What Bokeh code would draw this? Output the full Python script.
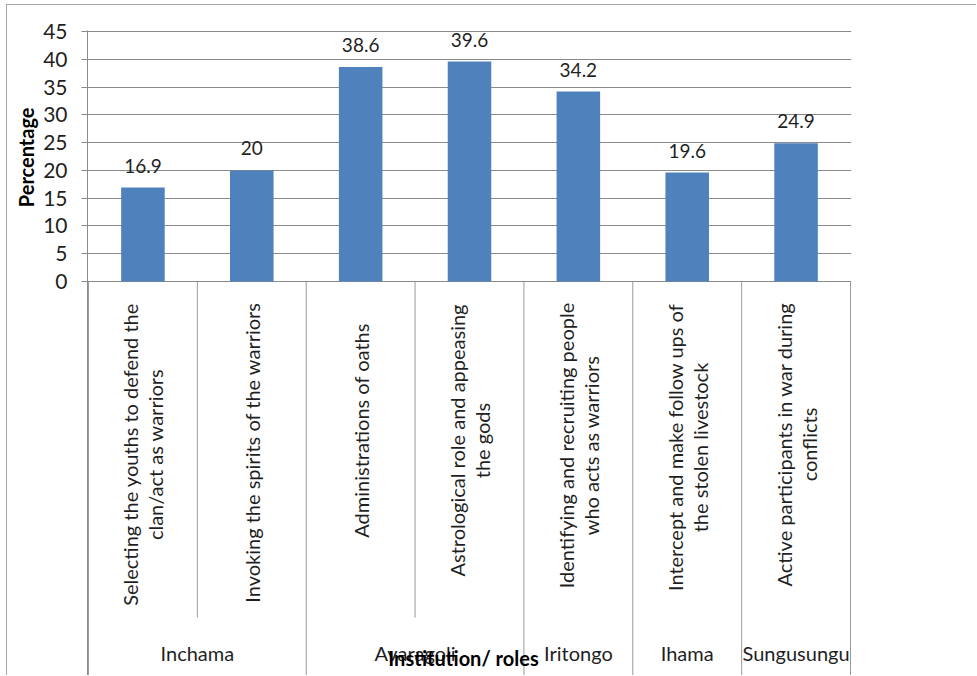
from math import pi

from bokeh.plotting import figure
from bokeh.models import FactorRange, Range1d, FixedTicker, Title
from bokeh.core.properties import value
from bokeh.embed import file_html
from bokeh.resources import INLINE

# ---------------- data ----------------
groups = ["Inchama", "Inchama", "Avaragoli", "Avaragoli", "Iritongo", "Ihama", "Sungusungu"]
roles = [
    "Selecting the youths to defend the clan/act as warriors",
    "Invoking the spirits of the warriors",
    "Administrations of oaths",
    "Astrological role and appeasing the gods",
    "Identifying and recruiting people who acts as warriors",
    "Intercept and make follow ups of the stolen livestock",
    "Active participants in war during conflicts",
]
role_lines = [
    ["Selecting the youths to defend the", "clan/act as warriors"],
    ["Invoking the spirits of the warriors"],
    ["Administrations of oaths"],
    ["Astrological role and appeasing", "the gods"],
    ["Identifying and recruiting people", "who acts as warriors"],
    ["Intercept and make follow ups of", "the stolen livestock"],
    ["Active participants in war during", "conflicts"],
]
percentages = [16.9, 20, 38.6, 39.6, 34.2, 19.6, 24.9]
y_ticks = [0, 5, 10, 15, 20, 25, 30, 35, 40, 45]
y_title = "Percentage"
x_title = "Institution/ roles"

# ---------------- layout (page pixels) ----------------
W, H = 977, 676
OX, OY = 7, 5                     # outer chart-area border
LEFT, RIGHT = 88, 850             # plot area
TOP, ZERO, BOTTOM = 31, 281, 676  # y=45, y=0, bottom of category area
INNER_BOTTOM = 617
Y_MAX = 45
ppu = (ZERO - TOP) / Y_MAX
cat_w = (RIGHT - LEFT) / len(roles)
label_mid = [454, 452, 430, 440, 445, 447, 444]
LINE_GAP = 25
GROUP_Y = 652
XTITLE_X, XTITLE_Y = 463, 657
YTITLE_TOP = 107


def ypx(px):
    return (ZERO - px) / ppu


FONT = "Lato"
TEXT_COLOR = "#1f1f1f"
GRID_COLOR = "#8a8a8a"
SEP_COLOR = "#9a9a9a"
BAR_COLOR = "#4F81BD"
BORDER_COLOR = "#a6a6a6"

factors = list(zip(groups, roles))
xr = FactorRange(factors=factors, factor_padding=0, group_padding=0,
                 subgroup_padding=0, range_padding=1 / cat_w,
                 range_padding_units="absolute")
yr = Range1d(ypx(BOTTOM), Y_MAX + 1 / ppu)

p = figure(x_range=xr, y_range=yr, width=W - OX, height=H - OY,
           x_axis_location=None, output_backend="svg", toolbar_location=None,
           min_border_left=LEFT - 1 - OX, min_border_right=W - RIGHT - 1,
           min_border_top=TOP - 1 - OY, min_border_bottom=0)
p.styles = {"border-left": f"1px solid {BORDER_COLOR}",
            "border-top": f"1px solid {BORDER_COLOR}",
            "margin-left": f"{OX - 1}px", "margin-top": f"{OY - 1}px"}
p.outline_line_color = None
p.xgrid.visible = False
p.ygrid.ticker = FixedTicker(ticks=y_ticks)
p.ygrid.grid_line_color = GRID_COLOR
p.yaxis.ticker = FixedTicker(ticks=y_ticks)
p.yaxis.axis_line_color = GRID_COLOR
p.yaxis.major_tick_line_color = GRID_COLOR
p.yaxis.major_tick_out = 6
p.yaxis.major_tick_in = 0
p.yaxis.minor_tick_line_color = None
p.yaxis.major_label_standoff = 14
p.yaxis.major_label_text_font = FONT
p.yaxis.major_label_text_font_size = "21px"
p.yaxis.major_label_text_color = TEXT_COLOR

p.add_layout(Title(text=y_title, align="right", offset=YTITLE_TOP - (TOP - 1),
                   text_font=FONT, text_font_size="20px", text_font_style="bold",
                   text_color="#000000", standoff=6), "left")

# bars and data labels
p.vbar(x=factors, top=percentages, width=0.4, fill_color=BAR_COLOR, line_color=None)
p.text(x=factors, y=percentages, text=[f"{v:g}" for v in percentages],
        y_offset=-22, text_align="center", text_baseline="alphabetic",
        text_font=value(FONT), text_font_size="19px", text_color=TEXT_COLOR)

# category separators
sep_x, sep_y1 = [], []
for i, (g, r) in enumerate(factors):
    sep_x.append((g, r, -0.5))
    sep_y1.append(ypx(BOTTOM) if (i == 0 or groups[i - 1] != g) else ypx(INNER_BOTTOM))
sep_x.append((groups[-1], roles[-1], 0.5))
sep_y1.append(ypx(BOTTOM))
p.segment(x0=sep_x, y0=[0] * len(sep_x), x1=sep_x, y1=sep_y1,
          line_color=SEP_COLOR, line_width=1)

# rotated role labels
lx, loff, ly, lt = [], [], [], []
for i, lines in enumerate(role_lines):
    n = len(lines)
    for j, line in enumerate(lines):
        lx.append(factors[i])
        loff.append((j - (n - 1) / 2) * LINE_GAP)
        ly.append(ypx(label_mid[i]))
        lt.append(line)
p.text(x=lx, y=ly, text=lt, x_offset=loff, angle=pi / 2,
       text_align="center", text_baseline="middle",
       text_font=value(FONT), text_font_size="20px", text_color=TEXT_COLOR)

# group labels
ugroups = list(dict.fromkeys(groups))
p.text(x=ugroups, y=[ypx(GROUP_Y)] * len(ugroups), text=ugroups,
       text_align="center", text_baseline="middle",
       text_font=value(FONT), text_font_size="20px", text_color=TEXT_COLOR)

# x axis title
u = (XTITLE_X - LEFT) / cat_w
k = int(u)
p.text(x=[(groups[k], roles[k], u - k - 0.5)], y=[ypx(XTITLE_Y)], text=[x_title],
       text_align="center", text_baseline="middle",
       text_font=value(FONT), text_font_size="20px", text_font_style="bold",
       text_color="#000000")

open("out.html", "w").write(file_html(p, INLINE))
